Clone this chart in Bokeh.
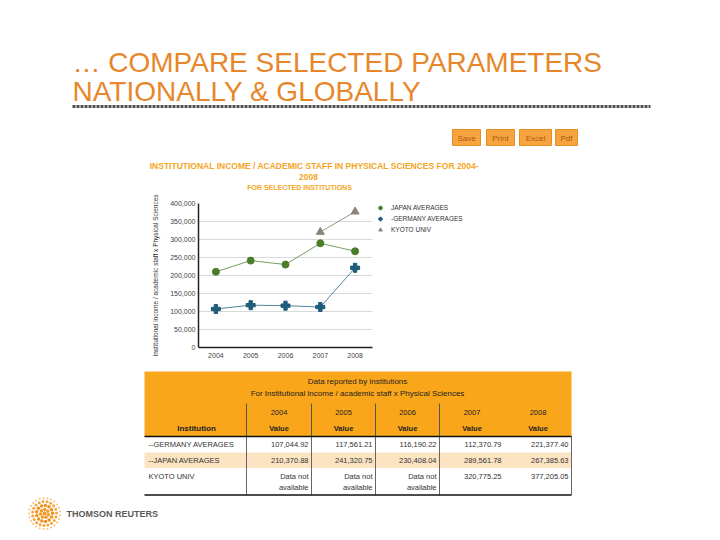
import math
from bokeh.plotting import figure
from bokeh.models import Range1d, FixedTicker, NumeralTickFormatter, Legend, LegendItem
from bokeh.layouts import column
from bokeh.core.properties import value
from bokeh.embed import file_html
from bokeh.resources import INLINE

# ---------------- data ----------------
years = [2004, 2005, 2006, 2007, 2008]
germany = [107044.92, 117561.21, 116190.22, 112370.79, 221377.40]
japan = [210370.88, 241320.75, 230408.04, 289561.78, 267385.63]
kyoto = [None, None, None, 320775.25, 377205.05]
table_names = ["--GERMANY AVERAGES", "--JAPAN AVERAGES", "KYOTO UNIV"]
legend_labels = ["JAPAN AVERAGES", "-GERMANY AVERAGES", "KYOTO UNIV"]
y_ticks = [0, 50000, 100000, 150000, 200000, 250000, 300000, 350000, 400000]
buttons = ["Save", "Print", "Excel", "Pdf"]
title_lines = ["\u2026 COMPARE SELECTED PARAMETERS", "NATIONALLY & GLOBALLY"]
chart_title_lines = ["INSTITUTIONAL INCOME / ACADEMIC STAFF IN PHYSICAL SCIENCES FOR 2004-",
                     "2008", "FOR SELECTED INSTITUTIONS"]
y_axis_label = "Institutional income / academic staff x Physical Sciences"
table_title_lines = ["Data reported by institutions",
                     "For Institutional income / academic staff x Physical Sciences"]
not_available = ["Data not", "available"]
logo_text = "THOMSON REUTERS"

# ---------------- styles ----------------
FONT = value("Liberation Sans")
ORANGE_TITLE = "#E8862A"
GOLD = "#F3A524"
JP_C = "#4B7D2B"
DE_C = "#1E5C7A"
KY_C = "#8A8577"
HEADER_FILL = "#FAA61A"
PEACH = "#FCE3C2"
TXT = "#333333"
W = 704


def txt(p, xs, ys, texts, size, color, align="left", baseline="middle", style="normal"):
    p.text(x=xs, y=ys, text=texts, text_font=FONT, text_font_size=size, text_color=color,
           text_align=align, text_baseline=baseline, text_font_style=style)


def page_fig(y0, y1):
    p = figure(width=W, height=int(y1 - y0), x_range=Range1d(0, W), y_range=Range1d(y1, y0),
               output_backend="svg", toolbar_location=None, min_border=0,
               x_axis_type=None, y_axis_type=None, frame_align=False)
    p.outline_line_color = None
    p.border_fill_color = "white"
    p.background_fill_color = "white"
    return p


# ---------------- top: slide title, buttons, chart title ----------------
pt = page_fig(0, 190)
txt(pt, [72, 72], [61.5, 90.5], title_lines, "28px", ORANGE_TITLE)
pt.line(x=[72, 650], y=[106, 106], line_color="#4d4d4d", line_width=3, line_dash="3 1")

btn_left = [452, 486, 519, 555]
btn_right = [480, 514, 551, 577]
pt.quad(left=btn_left, right=btn_right, top=[129] * 4, bottom=[145] * 4,
        fill_color="#F8A43E", line_color="#E48E26", line_width=1)
txt(pt, [(a + b) / 2 for a, b in zip(btn_left, btn_right)], [137.5] * 4, buttons,
    "8px", "#A65A14", align="center")

txt(pt, [314, 308], [165, 176], chart_title_lines[:2], "8.5px", GOLD, align="center", style="bold")
txt(pt, [299], [187], chart_title_lines[2:], "7px", GOLD, align="center", style="bold")

# ---------------- middle: line chart ----------------
pc = figure(frame_width=174, frame_height=144,
            x_range=Range1d(2003.5, 2008.5), y_range=Range1d(0, 400000),
            output_backend="svg", toolbar_location=None, frame_align=False,
            min_border_left=198, min_border_right=W - 372, min_border_top=13, min_border_bottom=21)
pc.outline_line_color = None
pc.border_fill_color = "white"
pc.xgrid.visible = False
pc.ygrid.grid_line_color = "#d9d9d9"
pc.ygrid.grid_line_width = 1

pc.xaxis.ticker = FixedTicker(ticks=years)
pc.yaxis.ticker = FixedTicker(ticks=y_ticks)
pc.yaxis.formatter = NumeralTickFormatter(format="0,0")
for ax in (pc.xaxis, pc.yaxis):
    ax.axis_line_color = "#222222"
    ax.axis_line_width = 1.5
    ax.major_tick_line_color = None
    ax.minor_tick_line_color = None
    ax.major_tick_out = 0
    ax.major_tick_in = 0
    ax.minor_tick_out = 0
    ax.major_label_text_font = "Liberation Sans"
    ax.major_label_text_font_size = "7px"
    ax.major_label_text_color = "#444444"
pc.yaxis.major_label_standoff = 3
pc.xaxis.major_label_standoff = 5
pc.yaxis.axis_label = y_axis_label
pc.yaxis.axis_label_text_font = "Liberation Sans"
pc.yaxis.axis_label_text_font_size = "6.5px"
pc.yaxis.axis_label_text_font_style = "normal"
pc.yaxis.axis_label_text_color = "#333333"
pc.yaxis.axis_label_standoff = 8

kyoto_vals = [float("nan") if v is None else v for v in kyoto]

pc.line(years, japan, line_color=JP_C, line_width=1, line_alpha=0.75)
sj = pc.scatter(years, japan, marker="circle", size=7, fill_color=JP_C, line_color=JP_C)
pc.line(years, germany, line_color=DE_C, line_width=1, line_alpha=0.75)
sg = pc.scatter(years, germany, marker="plus", size=9, fill_color=DE_C, line_color=DE_C)
pc.line(years, kyoto_vals, line_color=KY_C, line_width=1, line_alpha=0.9)
sk = pc.scatter(years, kyoto_vals, marker="triangle", size=8, fill_color=KY_C, line_color=KY_C)

legend = Legend(items=[LegendItem(label=legend_labels[0], renderers=[sj]),
                       LegendItem(label=legend_labels[1], renderers=[sg]),
                       LegendItem(label=legend_labels[2], renderers=[sk])],
                location="top_left", orientation="vertical",
                label_text_font="Liberation Sans", label_text_font_size="6.5px",
                label_text_color="#333333", glyph_width=16, glyph_height=9,
                label_height=9, label_standoff=3, spacing=2, padding=0, margin=0,
                border_line_color=None, background_fill_alpha=0)
pc.add_layout(legend, "right")

# ---------------- bottom: table and logo ----------------
pb = page_fig(368, 536)
col_edges = [144, 246, 311, 375, 439, 504, 571]
col_centers = [(col_edges[i] + col_edges[i + 1]) / 2 for i in range(1, 6)]
col_rights = [col_edges[i + 1] - 3 for i in range(1, 6)]
L, R = col_edges[0], col_edges[-1]

pb.quad(left=[L], right=[R], top=[371], bottom=[436], fill_color=HEADER_FILL, line_color=None)
pb.quad(left=[L], right=[R], top=[452], bottom=[467.5], fill_color=PEACH, line_color=None)
pb.segment(x0=col_edges[1:5], y0=[403] * 4, x1=col_edges[1:5], y1=[436] * 4,
           line_color="#555555", line_width=1)
pb.segment(x0=col_edges[1:5] + [R], y0=[436] * 5, x1=col_edges[1:5] + [R], y1=[494.5] * 5,
           line_color="#666666", line_width=1)
pb.segment(x0=[L, L], y0=[436, 494.5], x1=[R, R], y1=[436, 494.5], line_color="#111111", line_width=1.5)

txt(pb, [357, 357], [381, 393], table_title_lines, "8px", "#222222", align="center")
txt(pb, col_centers, [412] * 5, [str(y) for y in years], "7.5px", "#222222", align="center")
txt(pb, col_centers, [428] * 5, ["Value"] * 5, "7.5px", "#222222", align="center", style="bold")
txt(pb, [196], [428], ["Institution"], "8px", "#222222", align="center", style="bold")

row_y = [444, 460, 476]
txt(pb, [148] * 3, row_y, table_names, "7.5px", TXT)
for vals, ry in zip([germany, japan, kyoto], row_y):
    xs, ys, ts = [], [], []
    for xr, v in zip(col_rights, vals):
        if v is None:
            xs += [xr, xr]
            ys += [ry, ry + 11]
            ts += not_available
        else:
            xs.append(xr)
            ys.append(ry)
            ts.append(f"{v:,.2f}")
    txt(pb, xs, ys, ts, "7.5px", TXT, align="right")

# Thomson Reuters logo (decorative dot sphere)
lx, ly = 44, 513
dx, dy, ds, dc = [], [], [], []
for r, n, s, c in [(0, 1, 4, "#F39A2B"), (4, 7, 3.5, "#F39A2B"), (8, 13, 3.5, "#F0901F"),
                   (12, 19, 3, "#F5A540"), (15.5, 25, 2, "#F8C27A")]:
    for k in range(n):
        a = 2 * math.pi * k / n + r * 0.3
        dx.append(lx + r * math.cos(a))
        dy.append(ly + r * math.sin(a))
        ds.append(s)
        dc.append(c)
pb.scatter(dx, dy, size=ds, fill_color=dc, line_color=None, marker="circle")
txt(pb, [66], [513], [logo_text], "9px", "#5a5a5a", style="bold")

layout = column(pt, pc, pb, spacing=0)
open("out.html", "w").write(file_html(layout, INLINE))
